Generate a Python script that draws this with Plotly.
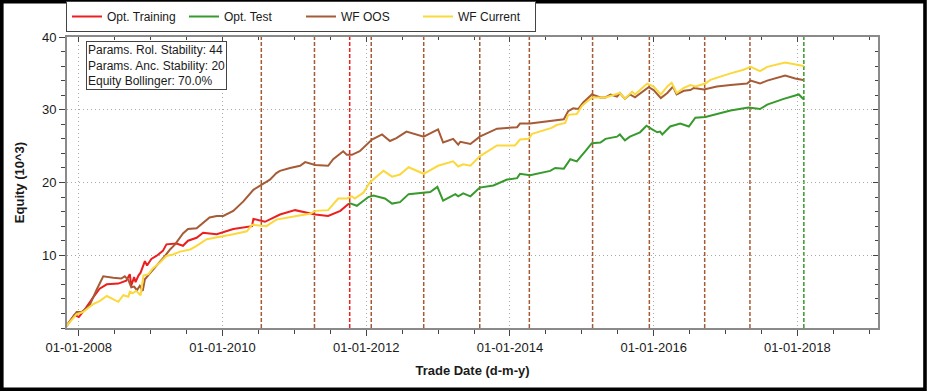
import plotly.graph_objects as go

# ---------------- data (x in decimal years, y in equity x10^3) ----------------
train_x = [2007.83, 2007.94, 2008.00, 2008.08, 2008.20, 2008.29, 2008.39, 2008.55, 2008.66, 2008.71,
           2008.73, 2008.77, 2008.79, 2008.83, 2008.86, 2008.92, 2008.95, 2009.01, 2009.08, 2009.17,
           2009.22, 2009.36, 2009.45, 2009.52, 2009.64, 2009.73, 2009.82, 2009.92, 2010.15, 2010.41,
           2010.43, 2010.59, 2010.80, 2011.01, 2011.29, 2011.47, 2011.64, 2011.76]
train_y = [0.3, 1.8, 1.5, 2.5, 4.2, 5.4, 6.0, 6.1, 6.5, 7.4,
           5.8, 7.0, 6.3, 7.2, 7.6, 9.2, 8.6, 9.5, 9.9, 10.6,
           11.5, 11.6, 11.3, 12.0, 12.4, 13.1, 13.0, 12.9, 13.6, 14.0,
           15.0, 14.6, 15.6, 16.2, 15.6, 15.4, 16.1, 17.1]

test_x = [2011.76, 2011.87, 2012.03, 2012.10, 2012.26, 2012.36, 2012.47, 2012.59, 2012.89, 2012.99,
          2013.07, 2013.17, 2013.24, 2013.28, 2013.35, 2013.45, 2013.58, 2013.77, 2013.96, 2014.10,
          2014.14, 2014.28, 2014.56, 2014.63, 2014.75, 2014.84, 2014.93, 2015.05, 2015.14, 2015.26,
          2015.33, 2015.49, 2015.53, 2015.60, 2015.67, 2015.81, 2015.90, 2015.98, 2016.05, 2016.09,
          2016.12, 2016.23, 2016.37, 2016.49, 2016.58, 2016.72, 2016.83, 2017.07, 2017.32, 2017.48,
          2017.58, 2017.81, 2018.02, 2018.09]
test_y = [17.2, 16.8, 18.0, 18.2, 17.8, 17.1, 17.3, 18.4, 18.7, 19.4,
          17.5, 18.1, 18.4, 18.1, 18.5, 18.1, 19.3, 19.6, 20.4, 20.6,
          21.2, 21.0, 21.6, 22.0, 21.9, 23.2, 22.9, 24.3, 25.4, 25.5,
          26.0, 26.3, 26.6, 25.8, 26.3, 26.9, 27.8, 27.3, 26.9, 27.0,
          26.6, 27.7, 28.1, 27.7, 28.9, 29.0, 29.3, 29.9, 30.3, 30.1,
          30.7, 31.5, 32.1, 31.4]

oos_x = [2007.83, 2007.97, 2008.04, 2008.15, 2008.25, 2008.34, 2008.48, 2008.59, 2008.64, 2008.69,
         2008.73, 2008.77, 2008.81, 2008.85, 2008.89, 2008.92, 2008.98, 2009.06, 2009.13, 2009.20,
         2009.27, 2009.34, 2009.45, 2009.52, 2009.64, 2009.73, 2009.82, 2009.92, 2010.01, 2010.15,
         2010.29, 2010.43, 2010.54, 2010.66, 2010.75, 2010.80, 2010.94, 2011.08, 2011.15, 2011.29,
         2011.47, 2011.54, 2011.68, 2011.73, 2011.80, 2011.91, 2012.08, 2012.22, 2012.33, 2012.42,
         2012.56, 2012.80, 2013.00, 2013.07, 2013.21, 2013.28, 2013.31, 2013.45, 2013.58, 2013.82,
         2014.10, 2014.14, 2014.28, 2014.75, 2014.81, 2014.88, 2014.95, 2015.02, 2015.14, 2015.26,
         2015.33, 2015.40, 2015.49, 2015.53, 2015.60, 2015.67, 2015.74, 2015.84, 2015.93, 2016.00,
         2016.10, 2016.19, 2016.27, 2016.32, 2016.42, 2016.51, 2016.56, 2016.70, 2016.88, 2017.07,
         2017.30, 2017.35, 2017.48, 2017.58, 2017.83, 2017.97, 2018.08]
oos_y = [0.3, 2.2, 2.2, 3.1, 5.3, 7.1, 6.9, 6.8, 7.1, 6.6,
         5.6, 5.7, 5.2, 5.8, 5.1, 6.7, 7.4, 8.3, 9.0, 9.9,
         10.8, 11.5, 13.0, 13.6, 13.7, 14.5, 15.2, 15.4, 15.4, 16.1,
         17.4, 19.0, 19.7, 20.4, 21.3, 21.6, 22.0, 22.3, 22.8, 22.4,
         22.3, 23.2, 24.3, 23.8, 23.8, 24.3, 25.9, 26.6, 25.7, 26.1,
         27.0, 26.3, 27.3, 25.5, 26.0, 25.2, 25.6, 25.3, 26.3, 27.4,
         27.6, 28.1, 28.1, 28.7, 29.8, 30.2, 30.1, 31.0, 32.1, 31.7,
         31.7, 32.1, 31.8, 32.3, 31.5, 32.1, 31.7, 32.5, 33.1, 32.7,
         31.6, 32.3, 33.2, 32.1, 32.6, 32.7, 33.0, 32.8, 33.2, 33.4,
         33.6, 34.0, 33.6, 34.0, 34.7, 34.3, 34.1]

cur_x = [2007.83, 2007.97, 2008.06, 2008.20, 2008.29, 2008.39, 2008.55, 2008.62, 2008.69, 2008.71,
         2008.75, 2008.80, 2008.86, 2008.90, 2008.97, 2009.03, 2009.13, 2009.22, 2009.31, 2009.41,
         2009.55, 2009.64, 2009.78, 2010.01, 2010.15, 2010.34, 2010.41, 2010.61, 2010.75, 2011.03,
         2011.22, 2011.29, 2011.47, 2011.61, 2011.73, 2011.80, 2011.84, 2011.96, 2012.05, 2012.24,
         2012.36, 2012.47, 2012.59, 2012.80, 2013.00, 2013.21, 2013.28, 2013.35, 2013.45, 2013.58,
         2013.82, 2014.07, 2014.14, 2014.26, 2014.31, 2014.58, 2014.65, 2014.77, 2014.81, 2014.93,
         2015.00, 2015.14, 2015.26, 2015.33, 2015.53, 2015.60, 2015.70, 2015.74, 2015.81, 2015.91,
         2016.00, 2016.10, 2016.19, 2016.25, 2016.32, 2016.42, 2016.51, 2016.58, 2016.72, 2016.79,
         2017.07, 2017.25, 2017.35, 2017.48, 2017.58, 2017.83, 2018.09]
cur_y = [0.3, 1.9, 2.2, 3.3, 3.7, 4.4, 3.6, 4.5, 4.3, 5.0,
         4.8, 5.1, 4.5, 7.2, 7.4, 8.2, 9.0, 9.9, 10.1, 10.5,
         10.8, 11.3, 12.2, 12.6, 12.9, 13.3, 14.2, 14.0, 14.9, 15.4,
         15.7, 16.1, 16.2, 17.8, 17.8, 18.1, 17.8, 18.6, 20.0, 21.6,
         20.8, 21.1, 22.1, 21.2, 22.3, 22.9, 22.2, 22.5, 22.3, 23.6,
         25.1, 25.1, 25.9, 26.0, 26.7, 27.5, 27.9, 28.2, 29.3, 29.4,
         30.5, 31.7, 31.7, 31.7, 32.3, 31.5, 32.5, 32.1, 32.7, 33.6,
         33.2, 32.1, 33.2, 33.7, 32.3, 33.0, 33.4, 33.2, 33.6, 34.1,
         35.0, 35.5, 35.9, 35.3, 35.9, 36.5, 36.0]

wf_boundaries = [2010.54, 2011.28, 2012.07, 2012.80, 2013.58, 2014.27, 2015.15,
                 2015.94, 2016.71, 2017.34]
train_end = 2011.77
test_end = 2018.09

year_ticks = [2008, 2010, 2012, 2014, 2016, 2018]
year_labels = ["01-01-2008", "01-01-2010", "01-01-2012", "01-01-2014", "01-01-2016", "01-01-2018"]
eq_ticks = [10, 20, 30, 40]

stats_text = ["Params. Rol. Stability: 44", "Params. Anc. Stability: 20", "Equity Bollinger: 70.0%"]

# ---------------- styling ----------------
RED = "#ec1f1f"
GREEN = "#379a2c"
BROWN = "#a65b37"
YELLOW = "#fbd93c"
FONT = "Arial, Liberation Sans, sans-serif"

W, H = 930, 391
ML, MR, MT, MB = 67, 52, 37, 63
PW, PH = W - ML - MR, H - MT - MB
X_RANGE = [2007.836, 2019.122]
Y_RANGE = [0, 40]


def px_x(p):
    return (p - ML) / PW


def px_y(p):
    return (H - MB - p) / PH


fig = go.Figure()
fig.add_trace(go.Scatter(x=train_x, y=train_y, mode="lines", name="Opt. Training",
                         line=dict(color=RED, width=2)))
fig.add_trace(go.Scatter(x=test_x, y=test_y, mode="lines", name="Opt. Test",
                         line=dict(color=GREEN, width=2)))
fig.add_trace(go.Scatter(x=oos_x, y=oos_y, mode="lines", name="WF OOS",
                         line=dict(color=BROWN, width=2)))
fig.add_trace(go.Scatter(x=cur_x, y=cur_y, mode="lines", name="WF Current",
                         line=dict(color=YELLOW, width=2)))
# empty trace that only makes the mirrored (top/right) tick axes render
fig.add_trace(go.Scatter(x=[], y=[], xaxis="x2", yaxis="y2", showlegend=False,
                         hoverinfo="skip"))

shapes = []
for xv in wf_boundaries:
    shapes.append(dict(type="line", xref="x", yref="paper", x0=xv, x1=xv, y0=0, y1=1,
                       line=dict(color=BROWN, width=1.5, dash="4px,2px"), layer="between"))
shapes.append(dict(type="line", xref="x", yref="paper", x0=train_end, x1=train_end, y0=0, y1=1,
                   line=dict(color=RED, width=1.5, dash="4px,2px"), layer="between"))
shapes.append(dict(type="line", xref="x", yref="paper", x0=test_end, x1=test_end, y0=0, y1=1,
                   line=dict(color=GREEN, width=1.5, dash="4px,2px"), layer="between"))
# outer black frame of the picture
shapes.append(dict(type="rect", xref="paper", yref="paper",
                   x0=px_x(1.8), x1=px_x(925), y0=px_y(1.8), y1=px_y(389.3),
                   line=dict(color="black", width=3.6), fillcolor="rgba(0,0,0,0)"))

fig.update_layout(
    width=W, height=H,
    margin=dict(l=ML, r=MR, t=MT, b=MB, autoexpand=False),
    paper_bgcolor="white", plot_bgcolor="white",
    font=dict(family=FONT, size=13, color="#1a1a1a"),
    shapes=shapes,
    showlegend=True,
    legend=dict(orientation="h", x=px_x(66), xanchor="left", y=px_y(32), yanchor="bottom",
                bgcolor="white", bordercolor="#444", borderwidth=1,
                font=dict(family=FONT, size=12, color="#1a1a1a"),
                entrywidth=72, entrywidthmode="pixels", itemwidth=30,
                traceorder="normal"),
    annotations=[dict(xref="paper", yref="paper", x=px_x(86), y=px_y(41),
                      xanchor="left", yanchor="top", align="left", showarrow=False,
                      text="<br>".join(stats_text),
                      font=dict(family=FONT, size=12, color="#1a1a1a"),
                      bordercolor="#444", borderwidth=1, borderpad=1, bgcolor="white")],
    xaxis=dict(range=X_RANGE, tickmode="array", tickvals=year_ticks,
               ticktext=year_labels, showgrid=True, gridcolor="#a8a8a8", griddash="1px,3px",
               gridwidth=1, zeroline=False, showline=True, linecolor="#8a8a8a", linewidth=2,
               mirror=True, ticks="outside", ticklen=6, tickcolor="#444", tickwidth=1,
               minor=dict(tickmode="linear", tick0=2008, dtick=0.5, ticks="outside",
                          ticklen=4, tickcolor="#444", showgrid=False),
               tickfont=dict(size=13), title=dict(text="<b>Trade Date (d-m-y)</b>",
                                                 font=dict(size=13), standoff=12)),
    yaxis=dict(range=Y_RANGE, tickmode="array", tickvals=eq_ticks,
               showgrid=True, gridcolor="#a8a8a8", griddash="1px,3px", gridwidth=1,
               zeroline=False, showline=True, linecolor="#8a8a8a", linewidth=2, mirror=True,
               ticks="outside", ticklen=6, tickcolor="#444", tickwidth=1,
               minor=dict(tickmode="linear", tick0=0, dtick=2, ticks="outside",
                          ticklen=4, tickcolor="#444", showgrid=False),
               tickfont=dict(size=13), title=dict(text="<b>Equity (10^3)</b>",
                                                 font=dict(size=13), standoff=14)),
    # secondary axes only carry the inward ticks on the top and right frame
    xaxis2=dict(overlaying="x", side="top", anchor="y2", range=X_RANGE, tickmode="array",
                tickvals=year_ticks, showticklabels=False, showgrid=False, zeroline=False,
                ticks="inside", ticklen=5, tickcolor="#444",
                minor=dict(tickmode="linear", tick0=2008, dtick=0.5, ticks="inside",
                           ticklen=3, tickcolor="#444", showgrid=False)),
    yaxis2=dict(overlaying="y", side="right", anchor="x2", range=Y_RANGE, tickmode="array",
                tickvals=eq_ticks, showticklabels=False, showgrid=False, zeroline=False,
                ticks="inside", ticklen=5, tickcolor="#444",
                minor=dict(tickmode="linear", tick0=0, dtick=2, ticks="inside",
                           ticklen=3, tickcolor="#444", showgrid=False)),
)

fig.write_html("out.html", config={"displayModeBar": False},
               post_script="document.body.style.margin='0';document.body.style.overflow='hidden';")
